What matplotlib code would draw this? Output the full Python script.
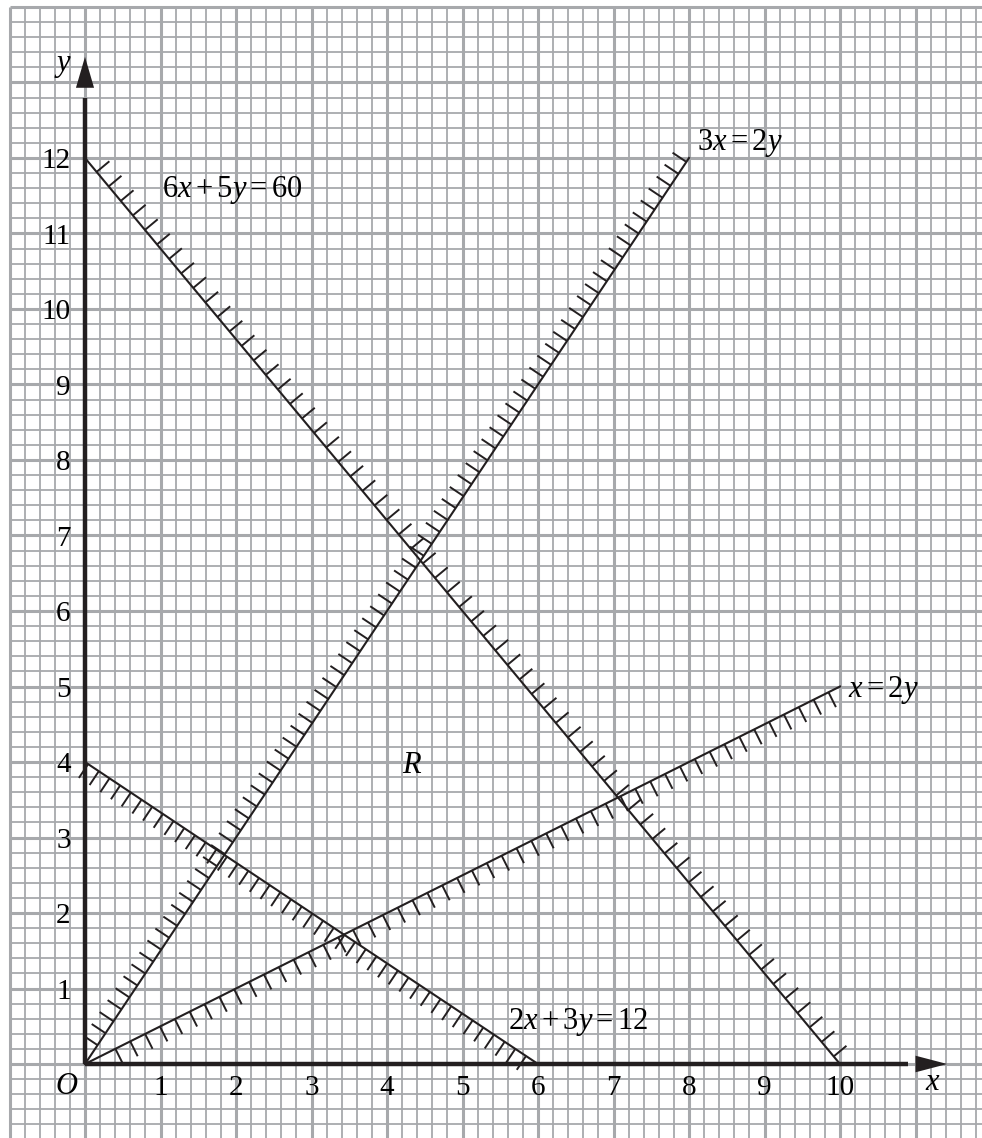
import numpy as np
import matplotlib
matplotlib.use("Agg")
import matplotlib.pyplot as plt
from matplotlib.collections import LineCollection

plt.rcParams['mathtext.fontset'] = 'custom'
plt.rcParams['mathtext.rm'] = 'Liberation Serif'
plt.rcParams['mathtext.it'] = 'Liberation Serif:italic'
plt.rcParams['font.family'] = 'Liberation Serif'

# boundary lines of the region R
line_labels = [r'$6x+5y=60$', r'$3x=2y$', r'$x=2y$', r'$2x+3y=12$']
line_start = [(0, 12), (0, 0), (0, 0), (0, 4)]
line_end = [(10, 0), (8, 12), (10, 5), (6, 0)]
hatch_side = [1, 1, -1, -1]          # +1 = left of start->end
hatch_gap = [0.25, 0.19, 0.22, 0.17]
hatch_first = [0.24, 0.3, 0.45, 0.05]
label_pos = [(1.02, 11.58), (8.1, 12.2), (10.1, 4.95), (5.6, 0.56)]

x_ticks = [1, 2, 3, 4, 5, 6, 7, 8, 9, 10]
y_ticks = [1, 2, 3, 4, 5, 6, 7, 8, 9, 10, 11, 12]

grid_col = '#a7a9ac'
ink = '#231f20'
px = 75.5  # pixels per unit

fig = plt.figure(figsize=(9.82, 11.38), dpi=100)
ax = fig.add_axes([0, 0, 1, 1])
ax.set_xlim(-85 / px, (982 - 85) / px)
ax.set_ylim(-(1138 - 1064) / px, 1064 / px)
ax.axis('off')

# graph paper
gx = np.round(np.arange(-1, 11.95, 0.2), 2)
gy = np.round(np.arange(-1.2, 14.01, 0.2), 2)
for v in gx:
    major = abs(v - round(v)) < 1e-6
    ax.plot([v, v], [-1.5, 14], color=grid_col, lw=2.2 if major else 1.3,
            zorder=1 + major, solid_capstyle='butt')
for v in gy:
    major = abs(v - round(v)) < 1e-6
    ax.plot([-1, 12.5], [v, v], color=grid_col, lw=2.2 if major else 1.3,
            zorder=1 + major, solid_capstyle='butt')

# axes with arrows
ax.plot([0, 10.9], [0, 0], color=ink, lw=3.2, zorder=5, solid_capstyle='butt')
ax.plot([0, 0], [0, 12.8], color=ink, lw=3.2, zorder=5, solid_capstyle='butt')
ax.fill([11.42, 11.0, 11.0], [0, 0.11, -0.11], color=ink, zorder=6, lw=0)
ax.fill([0, -0.12, 0.12], [13.34, 12.93, 12.93], color=ink, zorder=6, lw=0)

# lines and hatching
for i in range(len(line_labels)):
    p0 = np.array(line_start[i], float)
    p1 = np.array(line_end[i], float)
    ax.plot([p0[0], p1[0]], [p0[1], p1[1]], color=ink, lw=1.5, zorder=7)
    L = np.hypot(*(p1 - p0))
    d = (p1 - p0) / L
    n = hatch_side[i] * np.array([-d[1], d[0]])
    segs = []
    for t in np.arange(hatch_first[i], L - 0.05, hatch_gap[i]):
        a = p0 + t * d
        segs.append([a, a + 0.22 * n])
    ax.add_collection(LineCollection(segs, colors=ink, linewidths=1.4, zorder=7))
    ax.text(label_pos[i][0], label_pos[i][1], line_labels[i], fontsize=22,
            ha='left', va='center', zorder=8)

# tick labels
for v in x_ticks:
    ax.text(v, -0.32, str(v), fontsize=21, ha='center', va='center', zorder=8)
for v in y_ticks:
    ax.text(-0.19, v - 0.04, str(v), fontsize=21, ha='right', va='center', zorder=8)
ax.text(-0.24, -0.30, r'$O$', fontsize=22, ha='center', va='center', zorder=8)
ax.text(11.23, -0.25, r'$x$', fontsize=22, ha='center', va='center', zorder=8)
ax.text(-0.29, 13.23, r'$y$', fontsize=22, ha='center', va='center', zorder=8)
ax.text(4.33, 3.96, r'$R$', fontsize=22, ha='center', va='center', zorder=8)

fig.savefig('out.png', dpi=100)
